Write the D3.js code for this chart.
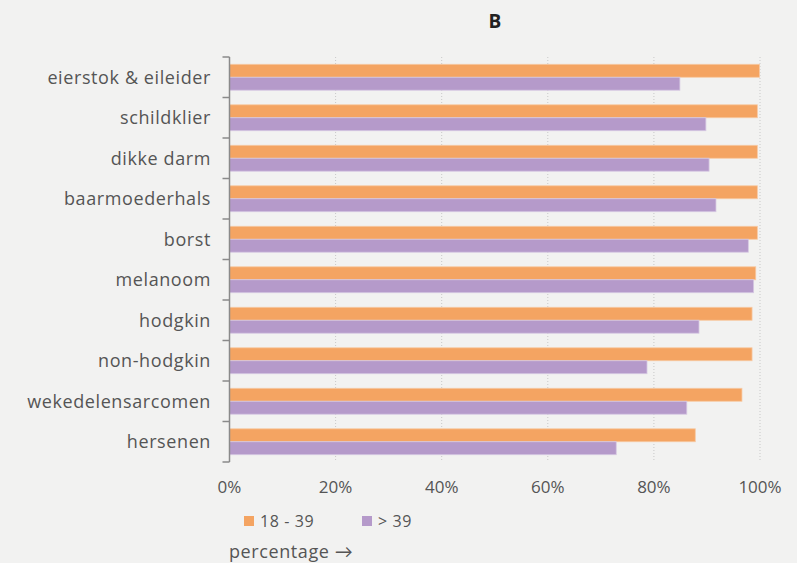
<!DOCTYPE html>
<html><head><meta charset="utf-8">
<script src="https://cdn.jsdelivr.net/npm/d3@7"></script>
<style>
html,body{margin:0;padding:0;background:#f2f2f1;}
svg{display:block;font-family:"Open Sans",Lato,sans-serif;}
.lbl{letter-spacing:0.6px;}
</style></head>
<body><svg id="chart" width="797" height="563"></svg>
<script>
const categories = ["eierstok & eileider","schildklier","dikke darm","baarmoederhals","borst","melanoom","hodgkin","non-hodgkin","wekedelensarcomen","hersenen"];
const seriesNames = ["18 - 39", "> 39"];
const young = [99.9, 99.5, 99.5, 99.5, 99.5, 99.2, 98.5, 98.5, 96.6, 87.8];
const old = [84.9, 89.8, 90.4, 91.7, 97.8, 98.8, 88.5, 78.7, 86.2, 72.9];
const xTicks = [0, 20, 40, 60, 80, 100];
const title = "B";
const xAxisTitle = "percentage \u2192";
const colors = ["#f4a462", "#b59aca"];

const svg = d3.select("#chart");
const m = {left: 229.5, right: 760, top: 57, bottom: 462};
const x = d3.scaleLinear().domain([0, 100]).range([m.left, m.right]);
const y = d3.scaleBand().domain(categories).range([m.top, m.bottom]).paddingInner(0.36).paddingOuter(0.18);
const y1 = d3.scaleBand().domain(seriesNames).range([0, y.bandwidth()]);

svg.append("text").attr("x", 495).attr("y", 28).attr("text-anchor", "middle")
  .attr("font-size", 19).attr("font-weight", "bold").attr("fill", "#222").text(title);

// grid
svg.append("g").selectAll("line").data(xTicks.filter(d => d > 0)).join("line")
  .attr("x1", d => x(d)).attr("x2", d => x(d)).attr("y1", m.top).attr("y2", m.bottom)
  .attr("stroke", "#c8c8c8").attr("stroke-width", 1).attr("stroke-dasharray", "1,2");

const data = categories.map((c, i) => ({c, vals: [young[i], old[i]]}));
const groups = svg.append("g").selectAll("g").data(data).join("g")
  .attr("transform", d => `translate(0,${y(d.c)})`);
groups.selectAll("rect").data(d => d.vals.map((v, j) => ({v, s: seriesNames[j], j}))).join("rect")
  .attr("x", x(0)).attr("y", d => y1(d.s)).attr("width", d => x(d.v) - x(0)).attr("height", y1.bandwidth())
  .attr("fill", d => colors[d.j]).attr("stroke", d => d.j === 0 ? "#f7c9a3" : "#d6c8e2").attr("stroke-width", 0.8);

// y axis
const yAxis = svg.append("g");
const boundaries = d3.range(categories.length + 1).map(i => m.top + i * (m.bottom - m.top) / categories.length);
yAxis.append("line").attr("x1", m.left).attr("x2", m.left).attr("y1", m.top).attr("y2", m.bottom)
  .attr("stroke", "#8a8a8a").attr("stroke-width", 1.5);
yAxis.selectAll("line.t").data(boundaries).join("line").attr("class", "t")
  .attr("x1", m.left - 7).attr("x2", m.left).attr("y1", d => d).attr("y2", d => d)
  .attr("stroke", "#8a8a8a").attr("stroke-width", 1.5);
yAxis.selectAll("text").data(categories).join("text").attr("class", "lbl")
  .attr("x", 211).attr("y", d => y(d) + y.bandwidth() / 2).attr("dy", "0.35em")
  .attr("text-anchor", "end").attr("font-size", 18).attr("fill", "#555").text(d => d);

// x axis labels
svg.append("g").selectAll("text").data(xTicks).join("text")
  .attr("x", d => x(d)).attr("y", 493).attr("text-anchor", "middle")
  .attr("font-size", 17).attr("fill", "#555").text(d => d + "%");

// legend
const leg = svg.append("g");
const legX = [244, 362];
seriesNames.forEach((s, i) => {
  leg.append("rect").attr("x", legX[i]).attr("y", 516).attr("width", 10).attr("height", 10).attr("fill", colors[i]);
  leg.append("text").attr("class", "lbl").attr("x", legX[i] + 16).attr("y", 527).attr("font-size", 16).attr("fill", "#555").text(s);
});
svg.append("text").attr("class", "lbl").attr("x", 229).attr("y", 558).attr("font-size", 18).attr("fill", "#555").text(xAxisTitle);
</script></body></html>
